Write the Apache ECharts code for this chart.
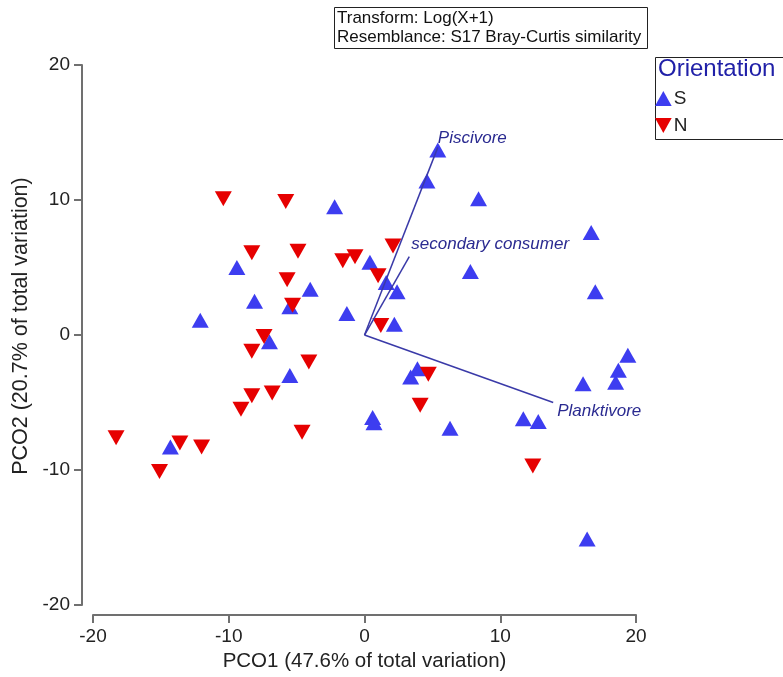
<!DOCTYPE html>
<html>
<head>
<meta charset="utf-8">
<script src="https://cdn.jsdelivr.net/npm/echarts@6/dist/echarts.min.js"></script>
<style>
  html, body { margin: 0; padding: 0; background: #fff; }
  #chart { width: 783px; height: 677px; }
</style>
</head>
<body>
<div id="chart"></div>
<script>
// PCO ordination scores, grouped by orientation
const groupS = [
  [5.4, 13.7], [4.6, 11.4], [8.4, 10.1], [-2.2, 9.5], [16.7, 7.6], [7.8, 4.7],
  [17.0, 3.2], [-9.4, 5.0], [-8.1, 2.5], [-4.0, 3.4], [-5.5, 2.1], [-12.1, 1.1],
  [-1.3, 1.6], [0.4, 5.4], [1.6, 3.9], [2.4, 3.2], [2.2, 0.8], [-7.0, -0.5],
  [-5.5, -3.0], [-14.3, -8.3], [3.9, -2.5], [3.4, -3.1], [0.6, -6.1], [0.7, -6.5],
  [6.3, -6.9], [16.1, -3.6], [18.5, -3.5], [18.7, -2.6], [19.4, -1.5],
  [11.7, -6.2], [12.8, -6.4], [16.4, -15.1]
];
const groupN = [
  [-10.4, 10.1], [-5.8, 9.9], [-8.3, 6.1], [-4.9, 6.2], [-5.7, 4.1], [-5.3, 2.2],
  [-7.4, -0.1], [-8.3, -1.2], [-4.1, -2.0], [-8.3, -4.5], [-6.8, -4.3], [-9.1, -5.5],
  [-4.6, -7.2], [-18.3, -7.6], [-13.6, -8.0], [-12.0, -8.3], [-15.1, -10.1],
  [2.1, 6.6], [-1.6, 5.5], [-0.7, 5.8], [1.0, 4.4], [1.2, 0.7], [4.7, -2.9],
  [4.1, -5.2], [12.4, -9.7]
];

// Vector overlay (trophic groups)
const vectorNames = ['Piscivore', 'secondary consumer', 'Planktivore'];
const vectorEnds = [[5.4, 13.9], [3.3, 5.8], [13.9, -5.0]];
const vectorLabelOffsets = [[0, -9], [2, -12], [4, 9]];

const xTicks = [-20, -10, 0, 10, 20];
const yTicks = [-20, -10, 0, 10, 20];

const blue = '#3d3df0';
const red = '#e60000';
const navy = '#2a2a90';
const axisGray = '#707070';
const sans = '"Liberation Sans", Arial, sans-serif';

const chart = echarts.init(document.getElementById('chart'));

const vectorSeries = vectorNames.map((name, i) => ({
  type: 'line',
  name: name,
  z: 5,
  silent: true,
  symbol: 'circle',
  symbolSize: 0,
  lineStyle: { color: '#3a3aa8', width: 1.5 },
  data: [
    { value: [0, 0], label: { show: false } },
    {
      value: vectorEnds[i],
      label: {
        show: true,
        formatter: name,
        position: 'right',
        distance: 0,
        offset: vectorLabelOffsets[i],
        color: navy,
        fontStyle: 'italic',
        fontFamily: sans,
        fontSize: 17
      }
    }
  ]
}));

const downTriangle = 'path://M0,0 L10,0 L5,9 Z';
const upTriangle = 'path://M5,0 L10,9 L0,9 Z';

chart.setOption({
  animation: false,
  grid: { left: 93, right: 147, top: 65, bottom: 68 },
  xAxis: {
    type: 'value',
    min: -20, max: 20, interval: 10,
    offset: 10,
    name: 'PCO1 (47.6% of total variation)',
    nameLocation: 'middle',
    nameGap: 34,
    nameTextStyle: { color: '#222', fontSize: 20.5, fontFamily: sans },
    axisLine: { show: true, onZero: false, lineStyle: { color: axisGray, width: 2 } },
    axisTick: { show: true, length: 8, lineStyle: { color: axisGray, width: 2 } },
    axisLabel: {
      color: '#222', fontSize: 19, fontFamily: sans, margin: 12,
      formatter: v => (xTicks.includes(v) ? String(v) : '')
    },
    splitLine: { show: false }
  },
  yAxis: {
    type: 'value',
    min: -20, max: 20, interval: 10,
    offset: 11,
    name: 'PCO2 (20.7% of total variation)',
    nameLocation: 'middle',
    nameGap: 50,
    nameRotate: 90,
    nameTextStyle: { color: '#222', fontSize: 21.5, fontFamily: sans, padding: [0, 0, 0, 18] },
    axisLine: { show: true, onZero: false, lineStyle: { color: axisGray, width: 2 } },
    axisTick: { show: true, length: 8, lineStyle: { color: axisGray, width: 2 } },
    axisLabel: {
      color: '#222', fontSize: 19, fontFamily: sans, margin: 12,
      formatter: v => (yTicks.includes(v) ? String(v) : '')
    },
    splitLine: { show: false }
  },
  legend: {
    orient: 'vertical',
    left: 655,
    top: 89,
    padding: 0,
    itemGap: 8,
    itemWidth: 17,
    itemHeight: 15,
    textStyle: { color: '#222', fontSize: 19, fontFamily: sans, padding: [0, 0, 0, -3] },
    data: [
      { name: 'S', icon: upTriangle },
      { name: 'N', icon: downTriangle }
    ]
  },
  graphic: [
    {
      type: 'rect', left: 334, top: 7, silent: true,
      shape: { width: 313, height: 41 },
      style: { fill: '#fff', stroke: '#222', lineWidth: 1 }
    },
    {
      type: 'text', left: 337, top: 9, silent: true,
      style: {
        text: 'Transform: Log(X+1)\nResemblance: S17 Bray-Curtis similarity',
        fill: '#111', fontSize: 17, lineHeight: 19, fontFamily: sans
      }
    },
    {
      type: 'rect', left: 653, top: 55, silent: true,
      shape: { width: 140, height: 82 },
      style: { fill: 'none', stroke: '#222', lineWidth: 1 }
    },
    {
      type: 'text', left: 658, top: 57, silent: true,
      style: {
        text: 'Orientation',
        fill: '#2020a8', fontSize: 24, fontFamily: sans
      }
    }
  ],
  series: [
    {
      type: 'scatter', name: 'S', z: 3,
      symbol: 'triangle', symbolSize: [17, 15],
      itemStyle: { color: blue, opacity: 1 },
      data: groupS
    },
    {
      type: 'scatter', name: 'N', z: 4,
      symbol: 'triangle', symbolRotate: 180, symbolSize: [17, 15],
      itemStyle: { color: red, opacity: 1 },
      data: groupN
    },
    ...vectorSeries
  ]
});
</script>
</body>
</html>
